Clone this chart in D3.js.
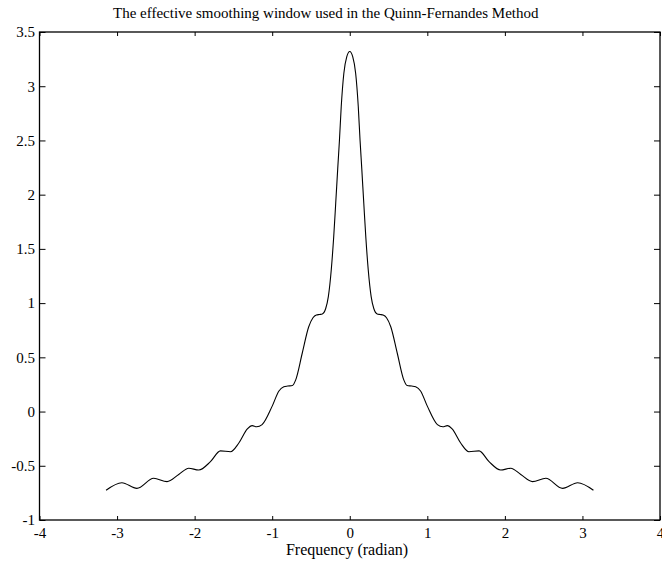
<!DOCTYPE html>
<html lang="en">

<head>
    <meta charset="UTF-8">
    <title>Quinn-Fernandes smoothing window</title>
    <script src="https://d3js.org/d3.v7.min.js"></script>
    <style type="text/css">
        body {
            margin: 0;
            background-color: #fff;
        }

        text {
            font-family: "Liberation Serif", "Times New Roman", serif;
            font-size: 15px;
            fill: #000;
        }

        .title {
            font-size: 15px;
        }

        .xlabel {
            font-size: 16px;
        }
    </style>
</head>

<body>
    <div id="chartArea"></div>
    <script type="text/javascript">
        // frequency (radian) and window value
        var freq = [-3.1416, -2.938, -2.744, -2.528, -2.356, -2.205, -2.076, -1.947, -1.796, -1.667,
            -1.537, -1.43, -1.32, -1.258, -1.2, -1.13, -1.0, -0.913, -0.85, -0.80,
            -0.74, -0.698, -0.612, -0.53, -0.474, -0.43, -0.39, -0.354, -0.31, -0.276,
            -0.238, -0.207, -0.181, -0.155, -0.133, -0.11, -0.076, -0.039, 0,
            0.039, 0.076, 0.11, 0.133, 0.155, 0.181, 0.207, 0.238, 0.276, 0.31,
            0.354, 0.39, 0.43, 0.474, 0.53, 0.612, 0.698, 0.74, 0.80, 0.85,
            0.913, 1.0, 1.13, 1.2, 1.258, 1.32, 1.43, 1.537, 1.667, 1.796,
            1.947, 2.076, 2.205, 2.356, 2.528, 2.744, 2.938, 3.1416];
        var windowVal = [-0.725, -0.656, -0.708, -0.615, -0.646, -0.58, -0.523, -0.539, -0.462, -0.363,
            -0.37, -0.29, -0.16, -0.13, -0.14, -0.12, 0.05, 0.19, 0.228, 0.235,
            0.24, 0.29, 0.54, 0.78, 0.865, 0.89, 0.895, 0.90, 0.95, 1.06,
            1.31, 1.61, 1.92, 2.24, 2.50, 2.81, 3.12, 3.27, 3.32,
            3.27, 3.12, 2.81, 2.50, 2.24, 1.92, 1.61, 1.31, 1.06, 0.95,
            0.90, 0.895, 0.89, 0.865, 0.78, 0.54, 0.29, 0.24, 0.235, 0.228,
            0.19, 0.05, -0.12, -0.14, -0.13, -0.16, -0.29, -0.37, -0.363, -0.462,
            -0.539, -0.523, -0.58, -0.646, -0.615, -0.708, -0.656, -0.725];

        var xTicks = [-4, -3, -2, -1, 0, 1, 2, 3, 4];
        var xTickLabels = ['-4', '-3', '-2', '-1', '0', '1', '2', '3', '4'];
        var yTicks = [-1, -0.5, 0, 0.5, 1, 1.5, 2, 2.5, 3, 3.5];
        var yTickLabels = ['-1', '-0.5', '0', '0.5', '1', '1.5', '2', '2.5', '3', '3.5'];

        var titleText = 'The effective smoothing window used in the Quinn-Fernandes Method';
        var xLabelText = 'Frequency (radian)';

        var w = 662, h = 565;
        var padL = 39.5, padR = 660, padT = 32, padB = 520;

        var svg = d3.select('#chartArea').append('svg')
            .attr('width', w)
            .attr('height', h);

        var xScale = d3.scaleLinear()
            .domain([-4, 4])
            .range([padL, padR]);

        var yScale = d3.scaleLinear()
            .domain([-1, 3.5])
            .range([padB, padT]);

        var pts = freq.map(function (f, i) {
            return [f, windowVal[i]];
        });

        var line = d3.line()
            .x(function (d) { return xScale(d[0]); })
            .y(function (d) { return yScale(d[1]); })
            .curve(d3.curveMonotoneX);

        svg.append('path')
            .datum(pts)
            .attr('d', line)
            .attr('fill', 'none')
            .attr('stroke', '#000')
            .attr('stroke-width', 1.1);

        // axes, ticks pointing inward on all four sides
        function xFmt(d) { return xTickLabels[xTicks.indexOf(d)]; }
        function yFmt(d) { return yTickLabels[yTicks.indexOf(d)]; }

        svg.append('g')
            .attr('transform', 'translate(0,' + padB + ')')
            .call(d3.axisBottom(xScale).tickValues(xTicks).tickFormat(xFmt)
                .tickSizeInner(-4).tickSizeOuter(0).tickPadding(7.4));
        svg.append('g')
            .attr('transform', 'translate(0,' + padT + ')')
            .call(d3.axisTop(xScale).tickValues(xTicks).tickFormat('')
                .tickSizeInner(-4).tickSizeOuter(0));
        svg.append('g')
            .attr('transform', 'translate(' + padL + ',0)')
            .call(d3.axisLeft(yScale).tickValues(yTicks).tickFormat(yFmt)
                .tickSizeInner(-6).tickSizeOuter(0).tickPadding(4.5));
        svg.append('g')
            .attr('transform', 'translate(' + padR + ',0)')
            .call(d3.axisRight(yScale).tickValues(yTicks).tickFormat('')
                .tickSizeInner(-6).tickSizeOuter(0));

        svg.selectAll('.domain').remove();
        svg.selectAll('.tick line').attr('stroke', '#000');
        svg.selectAll('.tick text')
            .attr('font-family', null)
            .attr('font-size', null);

        svg.append('rect')
            .attr('x', padL)
            .attr('y', padT)
            .attr('width', padR - padL)
            .attr('height', padB - padT)
            .attr('fill', 'none')
            .attr('stroke', '#000')
            .attr('stroke-width', 1.3);

        svg.append('text')
            .attr('class', 'title')
            .attr('x', 113)
            .attr('y', 17.5)
            .text(titleText);

        svg.append('text')
            .attr('class', 'xlabel')
            .attr('x', 347)
            .attr('y', 555)
            .attr('text-anchor', 'middle')
            .text(xLabelText);
    </script>
</body>

</html>
